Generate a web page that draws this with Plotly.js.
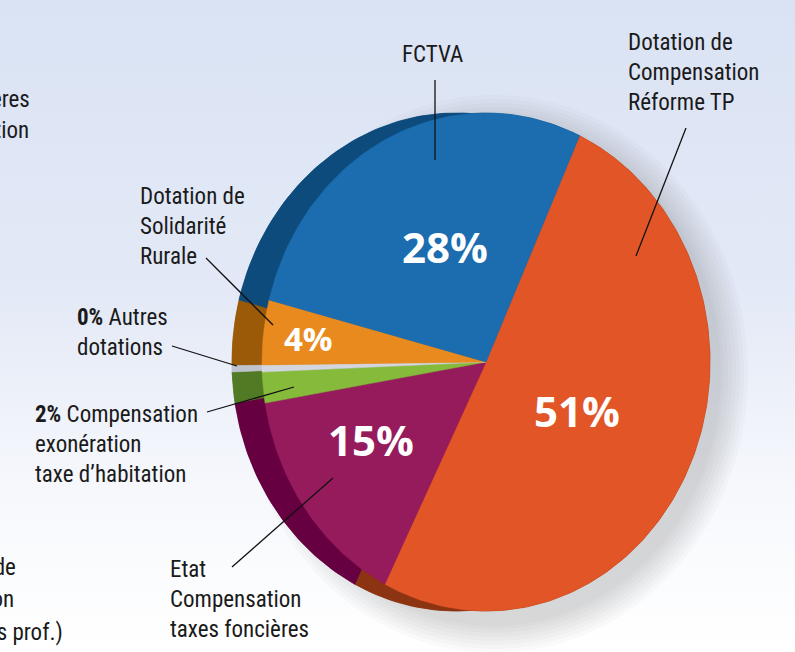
<!DOCTYPE html>
<html>
<head>
<meta charset="utf-8">
<script src="https://cdn.plot.ly/plotly-3.0.1.min.js"></script>
<style>
  html, body { margin: 0; padding: 0; }
  body { width: 795px; height: 652px; overflow: hidden;
         background: linear-gradient(to bottom, #dae3f4 0%, #e3e9f6 45%, #f6f8fc 75%, #ffffff 100%); }
  #chart { width: 795px; height: 652px; }
</style>
</head>
<body>
<div id="chart"></div>
<script>
// ---- data ----
const categories = [
  "Dotation de Compensation Réforme TP",
  "Etat Compensation taxes foncières",
  "Compensation exonération taxe d'habitation",
  "Autres dotations",
  "Dotation de Solidarité Rurale",
  "FCTVA"
];
const values = [50.6, 14.9, 2.0, 0.45, 4.2, 27.85];
const outsideLabels = [
  "Dotation de<br>Compensation<br>Réforme TP",
  "Etat<br>Compensation<br>taxes foncières",
  "<b>2%</b> Compensation<br>exonération<br>taxe d’habitation",
  "<b>0%</b> Autres<br>dotations",
  "Dotation de<br>Solidarité<br>Rurale",
  "FCTVA"
];
// ---- styles ----
const faceColors = ["#e25526", "#961b5c", "#85ba3b", "#d3d6de", "#e88a1e", "#1b6db0"];
const sideColors = ["#8c3411", "#660041", "#517a24", "#bfc3cd", "#9a5a07", "#0d4b7d"];
const CX = 486, CY = 362, RX = 224, RY = 249, DEPTH = 30, START = 24.7;
const labelRadius = [0.45, 0.6, null, null, 0.8, 0.5];
const labelAngleShift = [0, 5, 0, 0, 0, 4];
const labelSize = [42, 42, 0, 0, 33, 42];
const FONT = "'Liberation Sans Narrow', 'Roboto Condensed', Roboto, sans-serif";

function pt(a, dx, f) {
  const r = a * Math.PI / 180;
  return [CX + dx + f * RX * Math.sin(r), CY - f * RY * Math.cos(r)];
}
function arc(a1, a2, dx) {
  const pts = [];
  const n = Math.max(2, Math.ceil(Math.abs(a2 - a1) / 1));
  for (let i = 0; i <= n; i++) pts.push(pt(a1 + (a2 - a1) * i / n, dx, 1));
  return pts;
}

const total = values.reduce((s, v) => s + v, 0);
const angles = [];
let acc = START;
values.forEach(v => { const a1 = acc; acc += v / total * 360; angles.push([a1, acc]); });

const traces = [];
// soft shadow (down-right)
[30, 26, 22, 18, 14, 10, 6, 3].forEach(k => {
  const xs = [], ys = [];
  for (let i = 0; i <= 180; i++) {
    const t = i / 180 * 2 * Math.PI;
    xs.push(CX + 8 + (RX + k) * Math.sin(t));
    ys.push(CY + 12 - (RY + k) * Math.cos(t));
  }
  traces.push({type: "scatter", mode: "lines", x: xs, y: ys, fill: "toself",
    fillcolor: "rgba(80,88,110,0.032)", line: {width: 0}, hoverinfo: "skip", showlegend: false});
});
// side walls
values.forEach((v, i) => {
  const [a1, a2] = angles[i];
  const front = arc(a1, a2, 0);
  const back = arc(a2, a1, -DEPTH);
  const all = front.concat(back);
  all.push(front[0]);
  traces.push({type: "scatter", mode: "lines", x: all.map(p => p[0]), y: all.map(p => p[1]),
    fill: "toself", fillcolor: sideColors[i], line: {color: sideColors[i], width: 0.5},
    hoverinfo: "text", text: categories[i], showlegend: false});
});
// back sectors (fill the crescent interior)
values.forEach((v, i) => {
  const [a1, a2] = angles[i];
  const pts = [[CX - DEPTH, CY]].concat(arc(a1, a2, -DEPTH));
  pts.push([CX - DEPTH, CY]);
  traces.push({type: "scatter", mode: "lines", x: pts.map(p => p[0]), y: pts.map(p => p[1]),
    fill: "toself", fillcolor: sideColors[i], line: {color: sideColors[i], width: 0.5},
    hoverinfo: "skip", showlegend: false});
});
// front faces
values.forEach((v, i) => {
  const [a1, a2] = angles[i];
  const pts = [[CX, CY]].concat(arc(a1, a2, 0));
  pts.push([CX, CY]);
  traces.push({type: "scatter", mode: "lines", x: pts.map(p => p[0]), y: pts.map(p => p[1]),
    fill: "toself", fillcolor: faceColors[i], line: {color: faceColors[i], width: 0.5},
    hoverinfo: "text", text: categories[i] + ": " + Math.round(v / total * 100) + "%",
    name: categories[i], showlegend: false});
});

const annotations = [];
// inside percentages
values.forEach((v, i) => {
  if (!labelRadius[i]) return;
  const [a1, a2] = angles[i];
  const p = pt((a1 + a2) / 2 + labelAngleShift[i], 0, labelRadius[i]);
  annotations.push({x: p[0], y: p[1], xref: "x", yref: "y", showarrow: false,
    text: "<b>" + Math.round(v / total * 100) + "%</b>",
    font: {family: "'Open Sans', sans-serif", size: labelSize[i], color: "#ffffff"}});
});
// outside labels
const outPos = [
  {x: 626, y: 72, xanchor: "left"},
  {x: 168, y: 599, xanchor: "left"},
  {x: 33, y: 444, xanchor: "left"},
  {x: 75, y: 332, xanchor: "left"},
  {x: 138, y: 226, xanchor: "left"},
  {x: 432, y: 54, xanchor: "center"}
];
outsideLabels.forEach((t, i) => {
  annotations.push({x: outPos[i].x, y: outPos[i].y, xref: "x", yref: "y", showarrow: false,
    text: t, align: "left", xanchor: outPos[i].xanchor, yanchor: "middle",
    font: {family: FONT, size: 23, color: "#1a1a1a"}});
});
// cut-off labels from the neighbouring chart (cropped in the reference)
const cutLines = [
  {t: "Taxes foncières", x: 32, y: 99},
  {t: "Taxe d’habitation", x: 31, y: 130},
  {t: "Fonds de", x: 18, y: 567},
  {t: "péréquation", x: 16, y: 599},
  {t: "(taxes prof.)", x: 65, y: 632}
];
cutLines.forEach(c => annotations.push({x: c.x, y: c.y, xref: "x", yref: "y", showarrow: false,
  text: c.t, xanchor: "right", yanchor: "middle", font: {family: FONT, size: 23, color: "#1a1a1a"}}));

const leaders = [
  [686, 128, 636, 256],
  [232, 567, 333, 478],
  [207, 412, 294, 387],
  [172, 346, 237, 366],
  [206, 258, 273, 325],
  [435, 80, 435, 160]
];
const shapes = leaders.map(l => ({type: "line", xref: "x", yref: "y",
  x0: l[0], y0: l[1], x1: l[2], y1: l[3], line: {color: "#111111", width: 1.3}}));

const layout = {
  width: 795, height: 652,
  margin: {l: 0, r: 0, t: 0, b: 0},
  paper_bgcolor: "rgba(0,0,0,0)", plot_bgcolor: "rgba(0,0,0,0)",
  xaxis: {range: [0, 795], visible: false, fixedrange: true},
  yaxis: {range: [652, 0], visible: false, fixedrange: true},
  annotations: annotations, shapes: shapes, showlegend: false
};
Plotly.newPlot("chart", traces, layout, {displayModeBar: false});
</script>
</body>
</html>
